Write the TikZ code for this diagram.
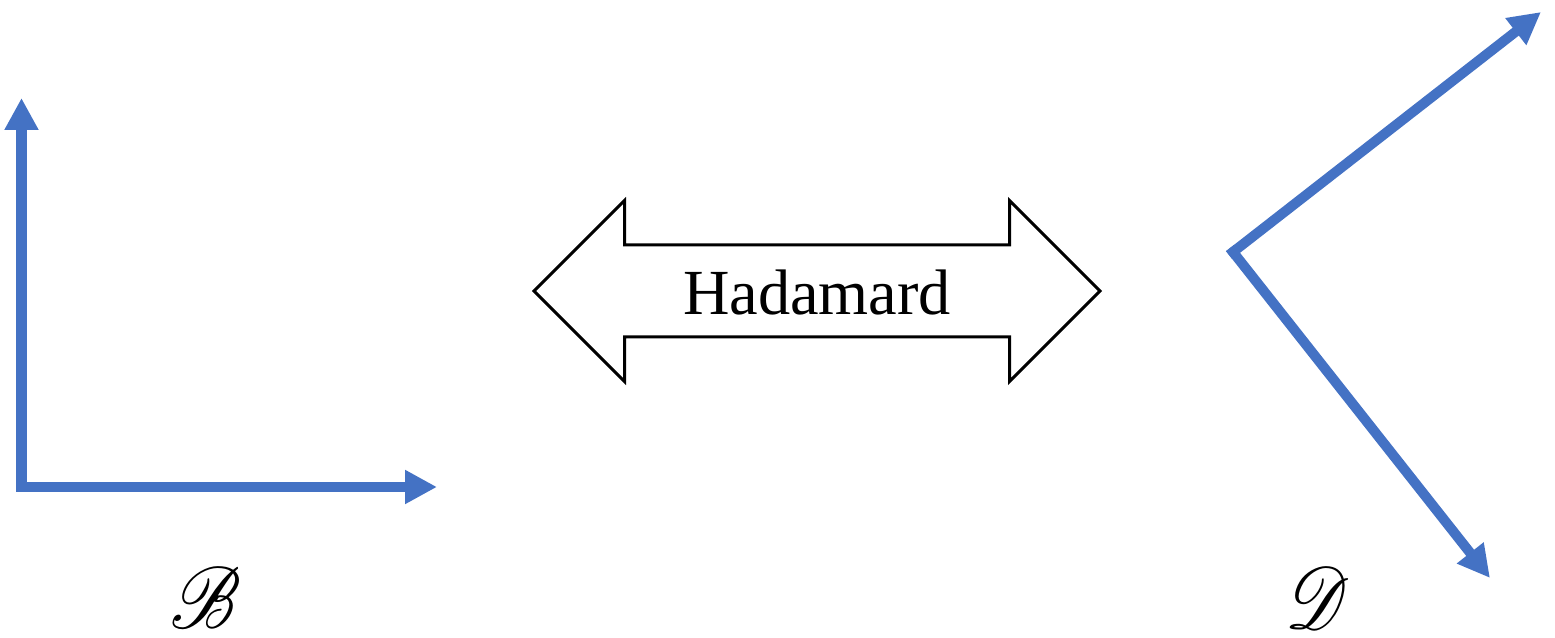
\documentclass[tikz,border=0pt]{standalone}
\usepackage{fontspec}
\setmainfont{Liberation Serif}
\usepackage{mathrsfs}
\usetikzlibrary{arrows.meta,shapes.arrows}
\definecolor{axisblue}{HTML}{4472C4}
\begin{document}
\begin{tikzpicture}
        \useasboundingbox (0,0) rectangle (15.55,6.38);
        \coordinate (bo) at (0.215, 1.51);
        \coordinate (bup) at (0.215, 5.40);
        \coordinate (bx) at (4.37, 1.51);
        \coordinate (do) at (12.33, 3.86);
        \coordinate (dup) at (15.41, 6.26);
        \coordinate (ddown) at (14.90, 0.60);
        \begin{scope}[every edge/.style={draw,axisblue,line width=0.1cm,line cap=rect,
                -{Triangle[length=0.32cm,width=0.32cm]}}]
            \path
                (bo) edge (bup)
                (bo) edge (bx)
                (do) edge (dup)
                (do) edge (ddown);
        \end{scope}
        \node (hada) at (8.17, 3.47) [draw,line width=0.03cm,shape=double arrow,
            double arrow head extend=0.445cm,double arrow tip angle=90,
            minimum height=5.66cm,inner xsep=0pt,inner ysep=0pt,
            text height=0.68cm,text depth=0.21cm,
            font=\fontsize{18.3}{22}\selectfont] {Hadamard};
        \begin{scope}[every node/.style={font=\fontsize{24}{28}\selectfont,xscale=0.85,transform shape}]
            \node (blabel) at (2.06, 0.40) {$\mathscr{B}$};
            \node (dlabel) at (13.18, 0.40) {$\mathscr{D}$};
        \end{scope}
    \end{tikzpicture}
\end{document}
